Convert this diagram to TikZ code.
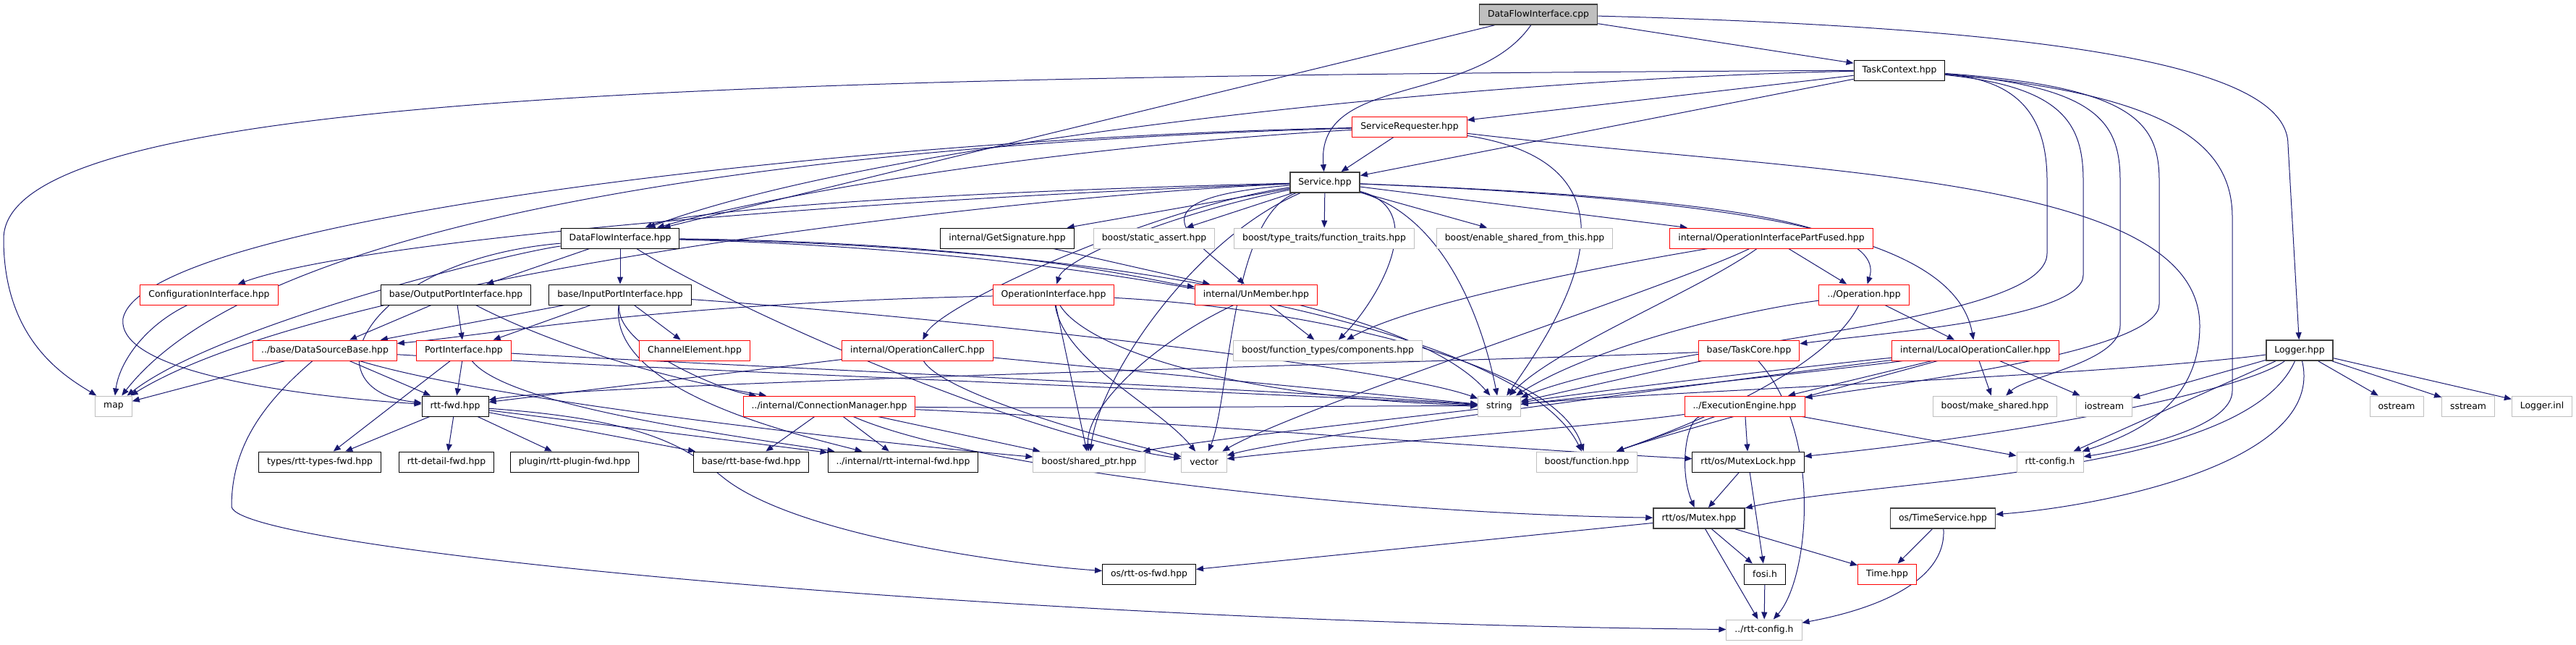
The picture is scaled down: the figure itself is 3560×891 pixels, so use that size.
\documentclass[tikz,border=0pt]{standalone}
\usepackage{fontspec}
\setmainfont{DejaVu Sans}
\usetikzlibrary{arrows.meta}
\usetikzlibrary{backgrounds}

\definecolor{kante}{HTML}{191970}
\definecolor{dunkel}{HTML}{404040}
\definecolor{hellgrau}{HTML}{BFBFBF}

\begin{document}
\begin{tikzpicture}[
	x=1pt,
	y=-1pt,
	kasten/.style={
		draw=black,
		line width=1pt,
		fill=white,
		minimum height=28pt,
		inner xsep=11.5pt,
		inner ysep=0pt,
		font=\fontsize{12.4}{14}\selectfont
	},
	dunkelkasten/.style={kasten, draw=dunkel, line width=1.6pt},
	grau/.style={kasten, draw=hellgrau},
	rot/.style={kasten, draw=red},
	pfeil/.style={
		draw=kante,
		line width=1pt,
		-{Triangle[length=10pt,width=8pt]}
	}
]
\useasboundingbox (0,0) rectangle (3560,891);

% Zeile 1 bis 4
\node[kasten, fill=hellgrau, draw=dunkel, line width=1.6pt] (CPP) at (2126,20) {DataFlowInterface.cpp};
\node[kasten] (TC) at (2625,97) {TaskContext.hpp};
\node[rot] (SR) at (1948,175) {ServiceRequester.hpp};
\node[dunkelkasten] (SVC) at (1831,252) {Service.hpp};

% Zeile 5
\node[kasten] (DFI) at (857,329) {DataFlowInterface.hpp};
\node[kasten] (GS) at (1392,329) {internal/GetSignature.hpp};
\node[grau] (SA) at (1595,329) {boost/static\_assert.hpp};
\node[grau] (FTR) at (1830,329) {boost/type\_traits/function\_traits.hpp};
\node[grau] (ESFT) at (2107,329) {boost/enable\_shared\_from\_this.hpp};
\node[rot] (OIPF) at (2448,329) {internal/OperationInterfacePartFused.hpp};

% Zeile 6
\node[rot] (CFG) at (289,407) {ConfigurationInterface.hpp};
\node[kasten] (OPI) at (630,407) {base/OutputPortInterface.hpp};
\node[kasten] (IPI) at (857,407) {base/InputPortInterface.hpp};
\node[rot] (OI) at (1456,407) {OperationInterface.hpp};
\node[rot] (UNM) at (1736,407) {internal/UnMember.hpp};
\node[rot] (OP) at (2576,407) {../Operation.hpp};

% Zeile 7
\node[rot] (DSB) at (449,484) {../base/DataSourceBase.hpp};
\node[rot] (PI) at (641,484) {PortInterface.hpp};
\node[rot] (CE) at (960,484) {ChannelElement.hpp};
\node[rot] (OCC) at (1268,484) {internal/OperationCallerC.hpp};
\node[grau] (FTC) at (1835,484) {boost/function\_types/components.hpp};
\node[rot] (TCORE) at (2417,484) {base/TaskCore.hpp};
\node[rot] (LOC) at (2730,484) {internal/LocalOperationCaller.hpp};
\node[dunkelkasten] (LOG) at (3178,484) {Logger.hpp};

% Zeile 8
\node[grau] (MAP) at (157,561) {map};
\node[kasten] (FWD) at (629,561) {rtt-fwd.hpp};
\node[rot] (CM) at (1146,561) {../internal/ConnectionManager.hpp};
\node[grau] (STR) at (2072,561) {string};
\node[rot] (EE) at (2411,561) {../ExecutionEngine.hpp};
\node[grau] (MKS) at (2757,561) {boost/make\_shared.hpp};
\node[grau] (IOS) at (2908,561) {iostream};
\node[grau] (OS) at (3312,561) {ostream};
\node[grau] (SS) at (3411,561) {sstream};
\node[grau] (INL) at (3513,561) {Logger.inl};

% Zeile 9
\node[kasten] (TFWD) at (442,638) {types/rtt-types-fwd.hpp};
\node[kasten] (DFWD) at (617,638) {rtt-detail-fwd.hpp};
\node[kasten] (PFWD) at (794,638) {plugin/rtt-plugin-fwd.hpp};
\node[kasten] (BFWD) at (1038,638) {base/rtt-base-fwd.hpp};
\node[kasten] (IFWD) at (1248,638) {../internal/rtt-internal-fwd.hpp};
\node[grau] (SP) at (1505,638) {boost/shared\_ptr.hpp};
\node[grau] (VEC) at (1664,638) {vector};
\node[grau] (BF) at (2193,638) {boost/function.hpp};
\node[kasten] (ML) at (2416,638) {rtt/os/MutexLock.hpp};
\node[grau] (CFGH) at (2833,638) {rtt-config.h};

% Zeile 10 bis 12
\node[dunkelkasten] (MTX) at (2348,716) {rtt/os/Mutex.hpp};
\node[dunkelkasten] (TS) at (2685,716) {os/TimeService.hpp};
\node[kasten] (OSFWD) at (1588,793) {os/rtt-os-fwd.hpp};
\node[kasten] (FOSI) at (2439,793) {fosi.h};
\node[rot] (TIME) at (2608,793) {Time.hpp};
\node[grau] (RCFG) at (2438,870) {../rtt-config.h};

\begin{pgfonlayer}{background}
% DataFlowInterface.cpp
\draw[pfeil] (CPP) -- (DFI);
\draw[pfeil] (CPP) to[out=235,in=95] (SVC);
\draw[pfeil] (CPP) -- (TC);
\draw[pfeil] (CPP) .. controls (2900,40) and (3162,100) .. (3162,200) -- (LOG);

% TaskContext.hpp
\draw[pfeil] (TC) .. controls (1000,105) and (5,130) .. (5,330) .. controls (5,470) and (90,520) .. (MAP);
\draw[pfeil] (TC) .. controls (2000,110) and (1200,200) .. (DFI);
\draw[pfeil] (TC) -- (SR);
\draw[pfeil] (TC) -- (SVC);
\draw[pfeil] (TC) .. controls (2780,110) and (2829,150) .. (2829,250) -- (2829,350) .. controls (2829,450) and (2300,470) .. (STR);
\draw[pfeil] (TC) .. controls (2850,120) and (2879,170) .. (2879,250) -- (2879,380) .. controls (2879,440) and (2600,460) .. (TCORE);
\draw[pfeil] (TC) .. controls (2900,120) and (2930,170) .. (2930,250) -- (2930,450) .. controls (2930,500) and (2800,520) .. (MKS);
\draw[pfeil] (TC) .. controls (2950,120) and (2984,170) .. (2984,250) -- (2984,420) .. controls (2984,480) and (2700,520) .. (EE);
\draw[pfeil] (TC) .. controls (3000,130) and (3085,200) .. (3085,300) -- (3085,540) .. controls (3085,590) and (2950,620) .. (CFGH);

% ServiceRequester.hpp
\draw[pfeil] (SR) -- (SVC);
\draw[pfeil] (SR) .. controls (1400,190) and (400,250) .. (MAP);
\draw[pfeil] (SR) .. controls (1500,200) and (1100,260) .. (DFI);
\draw[pfeil] (SR) .. controls (1200,190) and (200,300) .. (170,440) .. controls (160,520) and (450,550) .. (FWD);
\draw[pfeil] (SR) .. controls (2300,230) and (2150,450) .. (STR);
\draw[pfeil] (SR) .. controls (2500,240) and (3040,240) .. (3040,450) .. controls (3040,560) and (2950,600) .. (CFGH);

% Service.hpp
\draw[pfeil] (SVC) .. controls (1300,265) and (950,290) .. (DFI);
\draw[pfeil] (SVC) .. controls (1200,275) and (500,330) .. (CFG);
\draw[pfeil] (SVC) -- (GS);
\draw[pfeil] (SVC) -- (SA);
\draw[pfeil] (SVC) -- (FTR);
\draw[pfeil] (SVC) -- (ESFT);
\draw[pfeil] (SVC) -- (OIPF);
\draw[pfeil] (SVC) .. controls (1600,300) and (1470,360) .. (OI);
\draw[pfeil] (SVC) .. controls (1550,275) and (1650,330) .. (UNM);
\draw[pfeil] (SVC) .. controls (2300,270) and (2610,300) .. (OP);
\draw[pfeil] (SVC) .. controls (2400,275) and (2700,320) .. (LOC);
\draw[pfeil] (SVC) .. controls (1600,285) and (1300,420) .. (OCC);
\draw[pfeil] (SVC) .. controls (1400,270) and (450,380) .. (MAP);
\draw[pfeil] (SVC) .. controls (2000,300) and (2050,450) .. (STR);
\draw[pfeil] (SVC) .. controls (1700,300) and (1700,550) .. (VEC);
\draw[pfeil] (SVC) .. controls (1980,290) and (1900,420) .. (FTC);
\draw[pfeil] (SVC) .. controls (1650,330) and (1520,520) .. (SP);

% DataFlowInterface.hpp
\draw[pfeil] (DFI) -- (OPI);
\draw[pfeil] (DFI) -- (IPI);
\draw[pfeil] (DFI) .. controls (700,350) and (300,450) .. (MAP);
\draw[pfeil] (DFI) .. controls (500,360) and (420,540) .. (FWD);
\draw[pfeil] (DFI) .. controls (1400,335) and (1600,390) .. (UNM);
\draw[pfeil] (DFI) .. controls (1500,340) and (1950,420) .. (STR);
\draw[pfeil] (DFI) .. controls (1000,420) and (1400,600) .. (VEC);
\draw[pfeil] (DFI) .. controls (1500,345) and (2100,450) .. (BF);

% base/InputPortInterface.hpp, base/OutputPortInterface.hpp
\draw[pfeil] (IPI) -- (DSB);
\draw[pfeil] (IPI) -- (PI);
\draw[pfeil] (IPI) -- (CE);
\draw[pfeil] (IPI) .. controls (850,480) and (1000,540) .. (CM);
\draw[pfeil] (IPI) .. controls (1200,430) and (1900,500) .. (STR);
\draw[pfeil] (IPI) .. controls (840,540) and (1100,600) .. (IFWD);
\draw[pfeil] (OPI) -- (DSB);
\draw[pfeil] (OPI) -- (PI);
\draw[pfeil] (OPI) .. controls (750,470) and (900,520) .. (CM);

% PortInterface.hpp, ../base/DataSourceBase.hpp
\draw[pfeil] (PI) -- (FWD);
\draw[pfeil] (PI) -- (TFWD);
\draw[pfeil] (PI) .. controls (900,500) and (1800,540) .. (STR);
\draw[pfeil] (PI) .. controls (700,560) and (1000,600) .. (IFWD);
\draw[pfeil] (DSB) -- (MAP);
\draw[pfeil] (DSB) -- (FWD);
\draw[pfeil] (DSB) .. controls (900,510) and (1800,545) .. (STR);
\draw[pfeil] (DSB) .. controls (700,560) and (1300,620) .. (SP);
\draw[pfeil] (DSB) .. controls (360,560) and (320,620) .. (320,700) .. controls (330,760) and (1400,860) .. (RCFG);

% OperationInterface.hpp, internal/UnMember.hpp, internal/GetSignature.hpp
\draw[pfeil] (OI) .. controls (900,420) and (700,460) .. (DSB);
\draw[pfeil] (OI) .. controls (1500,480) and (1700,550) .. (STR);
\draw[pfeil] (OI) .. controls (1470,500) and (1600,560) .. (VEC);
\draw[pfeil] (OI) .. controls (1800,425) and (2150,500) .. (BF);
\draw[pfeil] (OI) -- (SP);
\draw[pfeil] (UNM) -- (FTC);
\draw[pfeil] (UNM) .. controls (1600,470) and (1500,560) .. (SP);
\draw[pfeil] (GS) -- (UNM);

% internal/OperationCallerC.hpp, ../internal/ConnectionManager.hpp
\draw[pfeil] (OCC) -- (FWD);
\draw[pfeil] (OCC) -- (STR);
\draw[pfeil] (OCC) .. controls (1300,540) and (1500,600) .. (VEC);
\draw[pfeil] (CM) -- (BFWD);
\draw[pfeil] (CM) -- (IFWD);
\draw[pfeil] (CM) -- (SP);
\draw[pfeil] (CM) .. controls (1350,650) and (1900,710) .. (MTX);
\draw[pfeil] (CM) .. controls (1500,575) and (2000,615) .. (ML);
\draw[pfeil] (CM) .. controls (1500,565) and (1900,560) .. (STR);

% ../Operation.hpp, internal/OperationInterfacePartFused.hpp
\draw[pfeil] (OP) -- (LOC);
\draw[pfeil] (OP) .. controls (2400,430) and (2200,480) .. (STR);
\draw[pfeil] (OP) .. controls (2520,520) and (2300,600) .. (BF);
\draw[pfeil] (OIPF) -- (OP);
\draw[pfeil] (OIPF) .. controls (2200,370) and (1950,420) .. (FTC);
\draw[pfeil] (OIPF) .. controls (2350,400) and (2150,480) .. (STR);
\draw[pfeil] (OIPF) .. controls (2300,400) and (1800,560) .. (VEC);

% internal/LocalOperationCaller.hpp
\draw[pfeil] (LOC) -- (MKS);
\draw[pfeil] (LOC) -- (IOS);
\draw[pfeil] (LOC) -- (EE);
\draw[pfeil] (LOC) .. controls (2550,500) and (2200,540) .. (STR);
\draw[pfeil] (LOC) .. controls (2550,505) and (1800,600) .. (VEC);
\draw[pfeil] (LOC) .. controls (2550,510) and (1700,600) .. (SP);
\draw[pfeil] (LOC) .. controls (2600,520) and (2300,600) .. (BF);

% base/TaskCore.hpp, ../ExecutionEngine.hpp
\draw[pfeil] (TCORE) -- (STR);
\draw[pfeil] (TCORE) .. controls (2000,500) and (800,530) .. (FWD);
\draw[pfeil] (TCORE) .. controls (2520,600) and (2500,800) .. (RCFG);
\draw[pfeil] (EE) .. controls (2330,580) and (2320,650) .. (MTX);
\draw[pfeil] (EE) -- (ML);
\draw[pfeil] (EE) -- (BF);
\draw[pfeil] (EE) .. controls (2200,590) and (1800,620) .. (VEC);
\draw[pfeil] (EE) -- (CFGH);

% Logger.hpp
\draw[pfeil] (LOG) -- (IOS);
\draw[pfeil] (LOG) -- (OS);
\draw[pfeil] (LOG) -- (SS);
\draw[pfeil] (LOG) -- (INL);
\draw[pfeil] (LOG) .. controls (2900,520) and (2300,540) .. (STR);
\draw[pfeil] (LOG) .. controls (3100,540) and (2800,600) .. (ML);
\draw[pfeil] (LOG) -- (CFGH);
\draw[pfeil] (LOG) .. controls (3100,660) and (2600,660) .. (MTX);
\draw[pfeil] (LOG) .. controls (3215,640) and (2900,700) .. (TS);

% os
\draw[pfeil] (ML) -- (MTX);
\draw[pfeil] (ML) -- (FOSI);
\draw[pfeil] (MTX) -- (OSFWD);
\draw[pfeil] (MTX) -- (FOSI);
\draw[pfeil] (MTX) -- (RCFG);
\draw[pfeil] (MTX) -- (TIME);
\draw[pfeil] (TS) -- (TIME);
\draw[pfeil] (TS) .. controls (2690,800) and (2600,840) .. (RCFG);
\draw[pfeil] (FOSI) -- (RCFG);

% ConfigurationInterface.hpp, rtt-fwd.hpp
\draw[pfeil] (CFG) .. controls (200,450) and (165,500) .. (MAP);
\draw[pfeil] (FWD) -- (TFWD);
\draw[pfeil] (FWD) -- (DFWD);
\draw[pfeil] (FWD) -- (PFWD);
\draw[pfeil] (FWD) -- (BFWD);
\draw[pfeil] (FWD) -- (IFWD);
\draw[pfeil] (FWD) .. controls (900,580) and (950,620) .. (1000,660) .. controls (1100,740) and (1400,780) .. (OSFWD);
\end{pgfonlayer}

\end{tikzpicture}
\end{document}
